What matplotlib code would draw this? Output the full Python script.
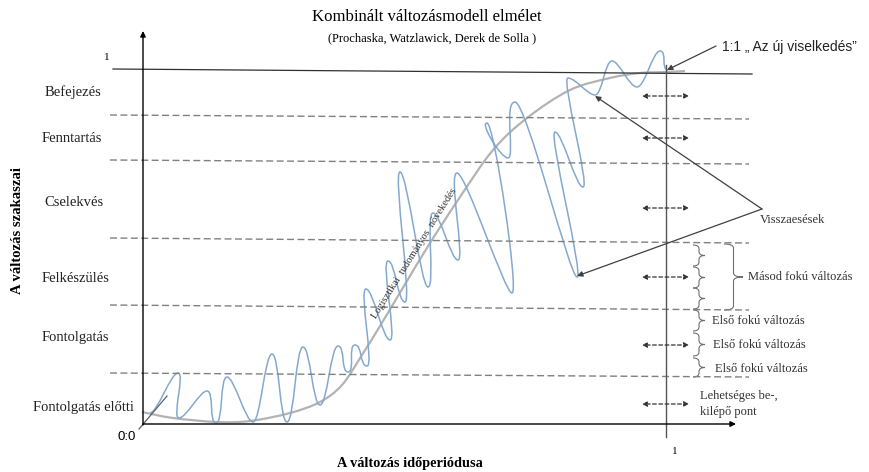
import numpy as np
import matplotlib.pyplot as plt
from matplotlib.path import Path
from matplotlib.patches import PathPatch

SERIF = 'Liberation Serif'
SANS = 'Liberation Sans'

# stages (left labels) and the dashed borders between them (pixel coords of the drawing)
STAGES = ['Befejezés', 'Fenntartás', 'Cselekvés', 'Felkészülés', 'Fontolgatás', 'Fontolgatás előtti']
STAGE_X = [45, 42, 44, 42, 42, 33]
STAGE_Y = [92, 139, 203, 279, 338, 407]
BORDER_Y_LEFT = [115, 160, 238, 305, 373]
BORDER_Y_RIGHT = [119, 164, 243, 310, 377]

# blue wave: its peaks and troughs
WAVE_X = [150, 178, 179, 207, 216, 227, 253, 272, 287, 303, 320, 338, 348, 355, 367, 366, 390, 388,
          405, 400, 428, 433, 458, 457, 512, 487, 508, 515, 577, 555, 583, 568, 595, 612, 637, 660, 668]
WAVE_Y = [413, 373, 418, 391, 423, 377, 422, 354, 422, 347, 405, 346, 372, 345, 366, 289, 340, 261,
          302, 172, 287, 213, 260, 173, 293, 123, 158, 102, 277, 132, 187, 78, 95, 61, 87, 51, 70]

# grey logistic curve
CURVE_X = [142, 173, 217, 250, 290, 320, 342, 362, 380, 395, 407, 430, 460, 493, 527, 570, 610, 640, 667, 685]
CURVE_Y = [412, 418, 422, 421, 413, 402, 385, 355, 326, 301, 281, 243, 197, 150, 118, 90, 78, 73, 72, 71]

ARROW_Y = [96, 138, 208, 277, 345, 404]
SMALL_BRACES = [(245, 266), (267, 288), (288, 309), (310, 331), (333, 356), (358, 377)]
FIRST_ORDER_X = [712, 713, 715]
FIRST_ORDER_Y = [321, 345, 369]


def smooth_path(xs, ys, flat=False):
    pts = np.column_stack([xs, ys]).astype(float)
    n = len(pts)
    tang = np.zeros_like(pts)
    for i in range(n):
        tang[i] = (pts[min(i + 1, n - 1)] - pts[max(i - 1, 0)]) / 2
    if flat:
        # horizontal tangent at every peak / trough, so they come out rounded
        tang[:, 1] = 0
        sgn = np.where(tang[:, 0] >= 0, 1, -1)
        tang[:, 0] = sgn * np.maximum(np.abs(tang[:, 0]), 22)
    verts = [pts[0]]
    codes = [Path.MOVETO]
    for i in range(n - 1):
        verts += [pts[i] + tang[i] / 3, pts[i + 1] - tang[i + 1] / 3, pts[i + 1]]
        codes += [Path.CURVE4] * 3
    return Path(verts, codes)


def brace(ax, x, y0, y1, w, color='#707070'):
    ym = (y0 + y1) / 2
    r = min(4, (y1 - y0) / 4)
    xm = x + w / 2
    verts = [(x, y0), (xm, y0), (xm, y0 + r), (xm, ym - r), (xm, ym), (x + w, ym),
             (xm, ym), (xm, ym + r), (xm, y1 - r), (xm, y1), (x, y1)]
    codes = [Path.MOVETO, Path.CURVE3, Path.CURVE3, Path.LINETO, Path.CURVE3, Path.CURVE3,
             Path.CURVE3, Path.CURVE3, Path.LINETO, Path.CURVE3, Path.CURVE3]
    ax.add_patch(PathPatch(Path(verts, codes), fc='none', ec=color, lw=0.8))


def arrow(ax, start, end, color='#404040'):
    ax.annotate('', xy=end, xytext=start,
                arrowprops=dict(arrowstyle='-|>', color=color, lw=0.9, mutation_scale=8,
                                shrinkA=0, shrinkB=0))


fig = plt.figure(figsize=(8.69, 4.72), dpi=100)
ax = fig.add_axes([0, 0, 1, 1])
ax.set_xlim(0, 869)
ax.set_ylim(472, 0)
ax.axis('off')

# title
ax.text(427, 17, 'Kombinált változásmodell elmélet', family=SERIF, fontsize=12, ha='center', va='center')
ax.text(432, 38, '(Prochaska, Watzlawick, Derek de Solla )', family=SERIF, fontsize=9,
        ha='center', va='center')

# top line "1" and dashed stage borders
ax.plot([113, 752], [69, 74], color='#303030', lw=0.9)
ax.text(107, 58, '1', family=SERIF, fontsize=8, ha='center', va='center')
for yl, yr in zip(BORDER_Y_LEFT, BORDER_Y_RIGHT):
    ax.plot([110, 749], [yl, yr], color='#808080', lw=1.0, linestyle=(0, (5, 2.5)))

for name, x, y in zip(STAGES, STAGE_X, STAGE_Y):
    ax.text(x, y, name, family=SERIF, fontsize=10.5, ha='left', va='center', color='#222222')

# axes
ax.annotate('', xy=(143, 31), xytext=(143, 425),
            arrowprops=dict(arrowstyle='-|>', color='black', lw=1.0, mutation_scale=8, shrinkA=0, shrinkB=0))
ax.annotate('', xy=(736, 424), xytext=(143, 424),
            arrowprops=dict(arrowstyle='-|>', color='black', lw=1.0, mutation_scale=8, shrinkA=0, shrinkB=0))
ax.plot([139, 167], [429, 396], color='#606060', lw=0.9)
ax.text(127, 437, '0:0', family=SANS, fontsize=9.5, ha='center', va='center')
ax.text(410, 463, 'A változás időperiódusa', family=SERIF, fontsize=10.3, fontweight='bold',
        ha='center', va='center')
ax.text(18, 231, 'A változás szakaszai', family=SERIF, fontsize=10.5, fontweight='bold',
        ha='center', va='center', rotation=90)

# vertical line at 1
ax.plot([666, 666], [65, 437], color='#555555', lw=1.0)
ax.text(675, 452, '1', family=SERIF, fontsize=8, ha='center', va='center')

# logistic curve and the wave
ax.add_patch(PathPatch(smooth_path(CURVE_X, CURVE_Y), fc='none', ec='#b3b3b3', lw=1.6))
ax.add_patch(PathPatch(smooth_path(WAVE_X, WAVE_Y, flat=True), fc='none', ec='#84a9cf', lw=1.1))
ax.text(414, 253, 'Logisztikai  tudományos  növekedés', family=SERIF, fontsize=7.5, rotation=58,
        ha='center', va='center', color='#333333')

# dashed double arrows
for y in ARROW_Y:
    ax.annotate('', xy=(642, y), xytext=(689, y),
                arrowprops=dict(arrowstyle='<|-|>', color='#333333', lw=0.9, mutation_scale=7,
                                linestyle=(0, (3, 2)), shrinkA=0, shrinkB=0))

# braces and their labels
for y0, y1 in SMALL_BRACES:
    brace(ax, 693, y0, y1, 12)
brace(ax, 724, 244, 310, 19)
ax.text(748, 277, 'Másod fokú változás', family=SERIF, fontsize=9, ha='left', va='center', color='#333333')
for x, y in zip(FIRST_ORDER_X, FIRST_ORDER_Y):
    ax.text(x, y, 'Első fokú változás', family=SERIF, fontsize=9, ha='left', va='center', color='#333333')
ax.text(700, 396, 'Lehetséges be-,', family=SERIF, fontsize=9, ha='left', va='center', color='#333333')
ax.text(700, 412, 'kilépő pont', family=SERIF, fontsize=9, ha='left', va='center', color='#333333')

# relapses
arrow(ax, (762, 209), (595, 96))
arrow(ax, (762, 209), (577, 276))
ax.text(760, 220, 'Visszaesések', family=SERIF, fontsize=9, ha='left', va='center', color='#333333')

# new behaviour
arrow(ax, (716, 46), (667, 70))
ax.text(722, 47, '1:1 „ Az új viselkedés”', family=SANS, fontsize=10, ha='left', va='center', color='#222222')

fig.savefig('out.png', dpi=100)
